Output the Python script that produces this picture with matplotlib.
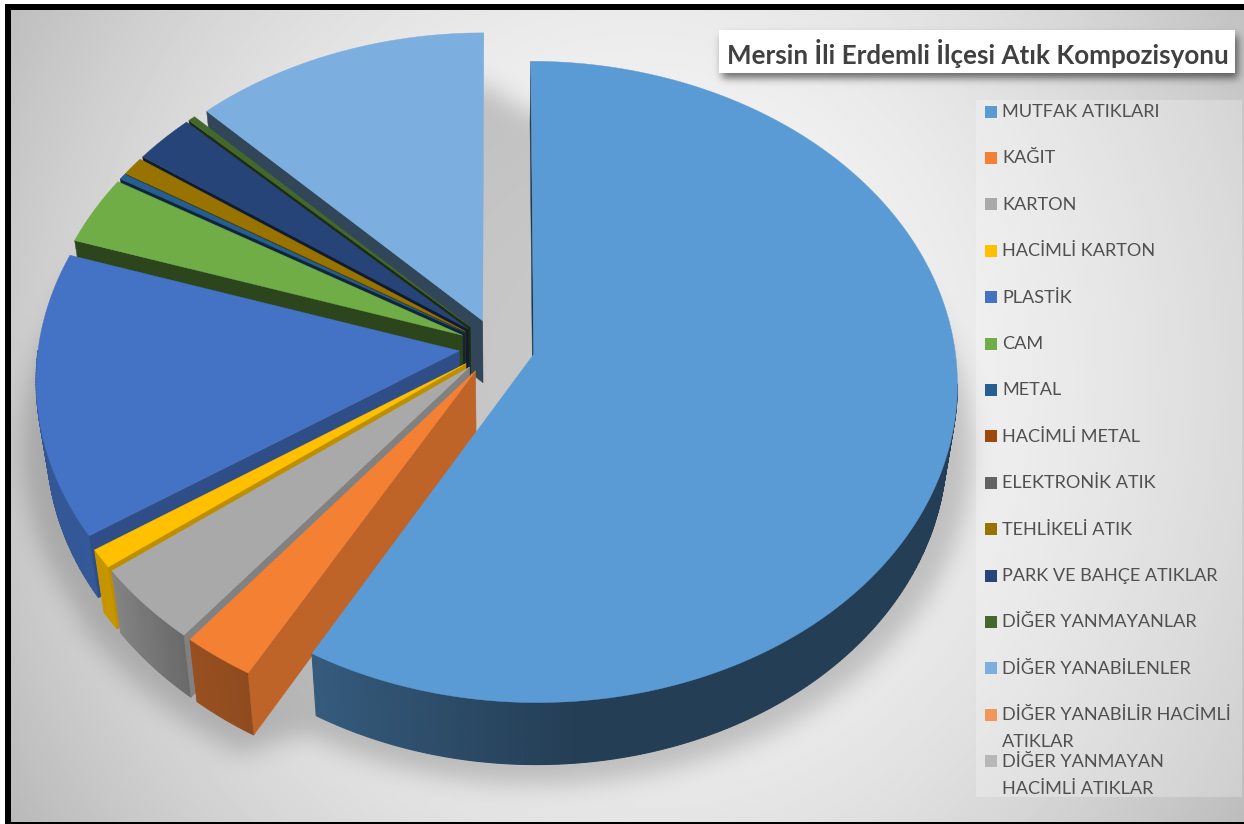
import numpy as np
import matplotlib
matplotlib.use('Agg')
import matplotlib.pyplot as plt
from matplotlib.path import Path
from matplotlib.patches import Rectangle

# values (percent)
categories = ['MUTFAK ATIKLARI', 'KAĞIT', 'KARTON', 'HACİMLİ KARTON', 'PLASTİK', 'CAM', 'METAL',
              'HACİMLİ METAL', 'ELEKTRONİK ATIK', 'TEHLİKELİ ATIK', 'PARK VE BAHÇE ATIKLAR',
              'DİĞER YANMAYANLAR', 'DİĞER YANABİLENLER', 'DİĞER YANABİLİR HACİMLİ\nATIKLAR',
              'DİĞER YANMAYAN\nHACİMLİ ATIKLAR']
values = [58.2, 2.55, 3.95, 0.95, 14.35, 3.5, 0.3, 0.0, 0.0, 0.95, 2.55, 0.3, 12.4, 0.0, 0.0]
colors = ['#5B9BD5', '#F48034', '#A9A9A9', '#FFC000', '#4472C4', '#70AD47', '#255E91', '#9E480E',
          '#636363', '#997300', '#264478', '#43682B', '#7CAFDF', '#F1975A', '#B7B7B7']

W, H = 1244, 824
# pie projection, in pixels
CX, CY, RX, RY, PERSP = 497, 347, 421, 317, 0.086
EXPLODE = 0.09
DEPTH = 62
BOTTOM_SCALE = 0.977


def project(u, v):
    f = 1 / (1 - PERSP * v)
    return CX + RX * u * f, CY + RY * v * f


def blur(img, sigma):
    n = int(3 * sigma)
    kernel = np.exp(-np.arange(-n, n + 1) ** 2 / (2 * sigma ** 2))
    kernel /= kernel.sum()
    pad = np.pad(img, n, mode='edge')
    pad = np.apply_along_axis(lambda r: np.convolve(r, kernel, mode='same'), 0, pad)
    pad = np.apply_along_axis(lambda r: np.convolve(r, kernel, mode='same'), 1, pad)
    return pad[n:-n, n:-n]


def mask_of(grid, xs, ys):
    return Path(np.column_stack([xs, ys])).contains_points(grid)


def shade(color, factor):
    return tuple(c * factor for c in matplotlib.colors.to_rgb(color))


def wall_factor(theta):
    return np.interp(theta, [0, 209, 233, 236, 288, 315, 360], [0.35, 0.78, 0.74, 0.69, 0.4, 0.4, 0.4])


def rim_factor(theta):
    return np.interp(theta, [0, 175, 208, 218, 233, 260, 360], [0.40, 0.40, 0.58, 0.62, 0.78, 0.75, 0.75])


def lower(x, y):
    return CX + (x - CX) * BOTTOM_SCALE, y + DEPTH


# slice geometry comes from the values
edges = np.cumsum([0] + values) / sum(values) * 360
slices = []
for i, val in enumerate(values):
    if val <= 0:
        continue
    t0, t1 = edges[i], edges[i + 1]
    mid = np.radians((t0 + t1) / 2)
    ou, ov = EXPLODE * np.sin(mid), -EXPLODE * np.cos(mid)
    th = np.radians(np.linspace(t0, t1, max(3, int((t1 - t0) / 0.5) + 2)))
    ax_, ay_ = project(ou, ov)
    ox, oy = project(ou + np.sin(th), ov - np.cos(th))
    slices.append({'i': i, 't0': t0, 't1': t1, 'th': th, 'apex': (ax_, ay_), 'ox': ox, 'oy': oy})

# background with pie shadow
gx, gy = np.meshgrid(np.arange(0, W, 2) + 1.0, np.arange(0, H, 2) + 1.0)
grid = np.column_stack([gx.ravel(), gy.ravel()])
d2 = ((gx - 640) / 640) ** 2 + ((gy - 380) / 700) ** 2
bg = 0.97 - 0.18 * d2

sx = CX + (np.concatenate([s['ox'] for s in slices]) - CX) * 1.03
sy = np.concatenate([s['oy'] for s in slices]) * 1.045 + 50
shadow = mask_of(grid, sx, sy).reshape(gx.shape).astype(float)
bg = bg * (1 - 0.19 * blur(shadow, 6))

tx, ty = [719, 1235, 1235, 719], [30, 30, 73, 73]
title_sh = mask_of(grid, np.array(tx) + 3, np.array(ty) + 5).reshape(gx.shape).astype(float)
bg = bg * (1 - 0.55 * blur(title_sh, 2))

fig = plt.figure(figsize=(W / 100, H / 100), dpi=100)
ax = fig.add_axes([0, 0, 1, 1])
ax.set_xlim(0, W)
ax.set_ylim(H, 0)
ax.axis('off')
ax.imshow(bg, cmap='gray', vmin=0, vmax=1, extent=(0, W, H, 0), interpolation='bilinear', aspect='auto')

# frame
ax.add_patch(Rectangle((0, 0), W, 4, fc='white', ec='none'))
ax.add_patch(Rectangle((0, 0), 5, H, fc='white', ec='none'))
ax.add_patch(Rectangle((5, 4), W, 6, fc='black', ec='none'))
ax.add_patch(Rectangle((5, 4), 6, H, fc='black', ec='none'))
ax.add_patch(Rectangle((5, 822), W, 2, fc='black', ec='none'))

# back to front, main slice last
order = slices[1:][::-1] + slices[:1]
for s in order:
    col = colors[s['i']]
    apx, apy = s['apex']
    bx, by = lower(s['ox'], s['oy'])
    abx, aby = lower(apx, apy)
    # rim, only the part that faces the viewer
    for k in range(len(s['th']) - 1):
        deg = np.degrees(s['th'][k])
        if deg < 95 or deg > 270:
            continue
        rc = shade(col, rim_factor(deg))
        ax.fill([s['ox'][k], s['ox'][k + 1], bx[k + 1], bx[k]],
                [s['oy'][k], s['oy'][k + 1], by[k + 1], by[k]], color=rc, lw=0.8)
    # radial wall on the start side
    wc = shade(col, wall_factor(s['t0']))
    ax.fill([apx, s['ox'][0], bx[0], abx], [apy, s['oy'][0], by[0], aby], color=wc, lw=0.3)
    # top
    ax.fill(np.r_[apx, s['ox']], np.r_[apy, s['oy']], color=col, lw=0.3)

# title
ax.add_patch(Rectangle((719, 30), 516, 43, fc='white', ec='none'))
ax.text(727, 53, 'Mersin İli Erdemli İlçesi Atık Kompozisyonu', fontsize=18.7, fontweight='bold',
        family='Lato', color='#404040', va='center', ha='left')

# legend
ax.add_patch(Rectangle((976, 100), 266, 697, fc='white', ec='none', alpha=0.25))
for i, name in enumerate(categories):
    y = 111.5 + i * 46.4
    ax.add_patch(Rectangle((985, y - 6), 12, 12, fc=colors[i], ec='none'))
    for j, line in enumerate(name.split('\n')):
        ax.text(1002, y + 0.5 + j * 27, line, fontsize=13.05, family='Lato', color='#505050', va='center', ha='left')

fig.savefig('out.png', dpi=100)
